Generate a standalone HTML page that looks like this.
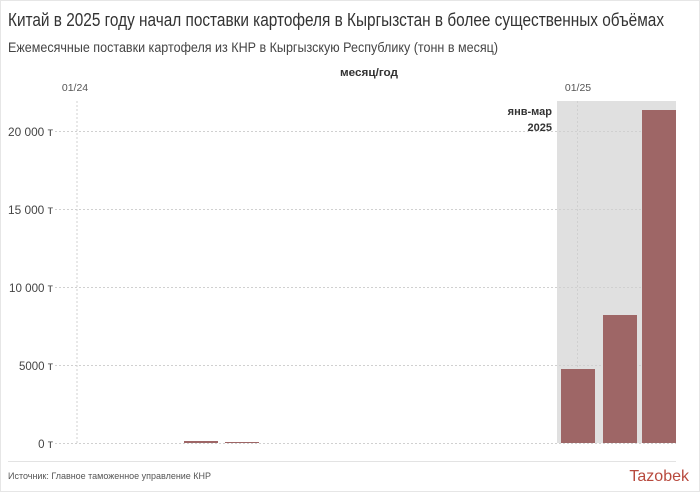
<!DOCTYPE html>
<html><head><meta charset="utf-8"><style>
html,body{margin:0;padding:0;background:#fff}
svg{display:block}
text{font-family:"Liberation Sans","DejaVu Sans",sans-serif}
</style></head><body>
<svg width="700" height="492" viewBox="0 0 700 492" xmlns="http://www.w3.org/2000/svg">
<rect x="0" y="0" width="700" height="492" fill="#fff"/>
<rect x="0.5" y="0.5" width="699" height="491" fill="none" stroke="#e6e6e6"/>
<text x="8" y="26" font-size="18" fill="#333" textLength="656" lengthAdjust="spacingAndGlyphs">Китай в 2025 году начал поставки картофеля в Кыргызстан в более существенных объёмах</text>
<text x="8" y="52" font-size="13.5" fill="#444" textLength="490" lengthAdjust="spacingAndGlyphs">Ежемесячные поставки картофеля из КНР в Кыргызскую Республику (тонн в месяц)</text>
<text x="369" y="76" font-size="11" font-weight="bold" fill="#333" text-anchor="middle" textLength="58" lengthAdjust="spacingAndGlyphs">месяц/год</text>
<text x="75" y="91" font-size="10.5" fill="#555" text-anchor="middle">01/24</text>
<text x="578" y="91" font-size="10.5" fill="#555" text-anchor="middle">01/25</text>
<rect x="557" y="101" width="119" height="342" fill="#e0e0e0"/>
<g stroke="#d0d0d0" stroke-dasharray="2,2" stroke-width="1">
<line x1="77" y1="101" x2="77" y2="443"/>
<line x1="577.5" y1="101" x2="577.5" y2="443"/>
<line x1="55" y1="131.5" x2="676" y2="131.5"/>
<line x1="55" y1="209.5" x2="676" y2="209.5"/>
<line x1="55" y1="287.5" x2="676" y2="287.5"/>
<line x1="55" y1="365.5" x2="676" y2="365.5"/>
<line x1="55" y1="443.5" x2="676" y2="443.5"/>
</g>
<g font-size="11.5" fill="#444" text-anchor="end">
<text x="53" y="136" textLength="45" lengthAdjust="spacingAndGlyphs">20 000 т</text>
<text x="53" y="214" textLength="45" lengthAdjust="spacingAndGlyphs">15 000 т</text>
<text x="53" y="292" textLength="44" lengthAdjust="spacingAndGlyphs">10 000 т</text>
<text x="53" y="370" textLength="34" lengthAdjust="spacingAndGlyphs">5000 т</text>
<text x="53" y="448">0 т</text>
</g>
<text x="552" y="115" font-size="11" font-weight="bold" fill="#333" text-anchor="end">янв-мар</text>
<text x="552" y="131" font-size="11" font-weight="bold" fill="#333" text-anchor="end">2025</text>
<g fill="#9e6666">
<rect x="184" y="441" width="34" height="2"/>
<rect x="225" y="442" width="34" height="1"/>
<rect x="561" y="369" width="34" height="74"/>
<rect x="603" y="315" width="34" height="128"/>
<rect x="642" y="110" width="34" height="333"/>
</g>
<line x1="8" y1="461.5" x2="676" y2="461.5" stroke="#e3e3e3"/>
<text x="8" y="479" font-size="9.5" fill="#555" textLength="203" lengthAdjust="spacingAndGlyphs">Источник: Главное таможенное управление КНР</text>
<text x="689" y="481" font-size="16" fill="#b84a3e" text-anchor="end">Tazobek</text>
</svg>
</body></html>
